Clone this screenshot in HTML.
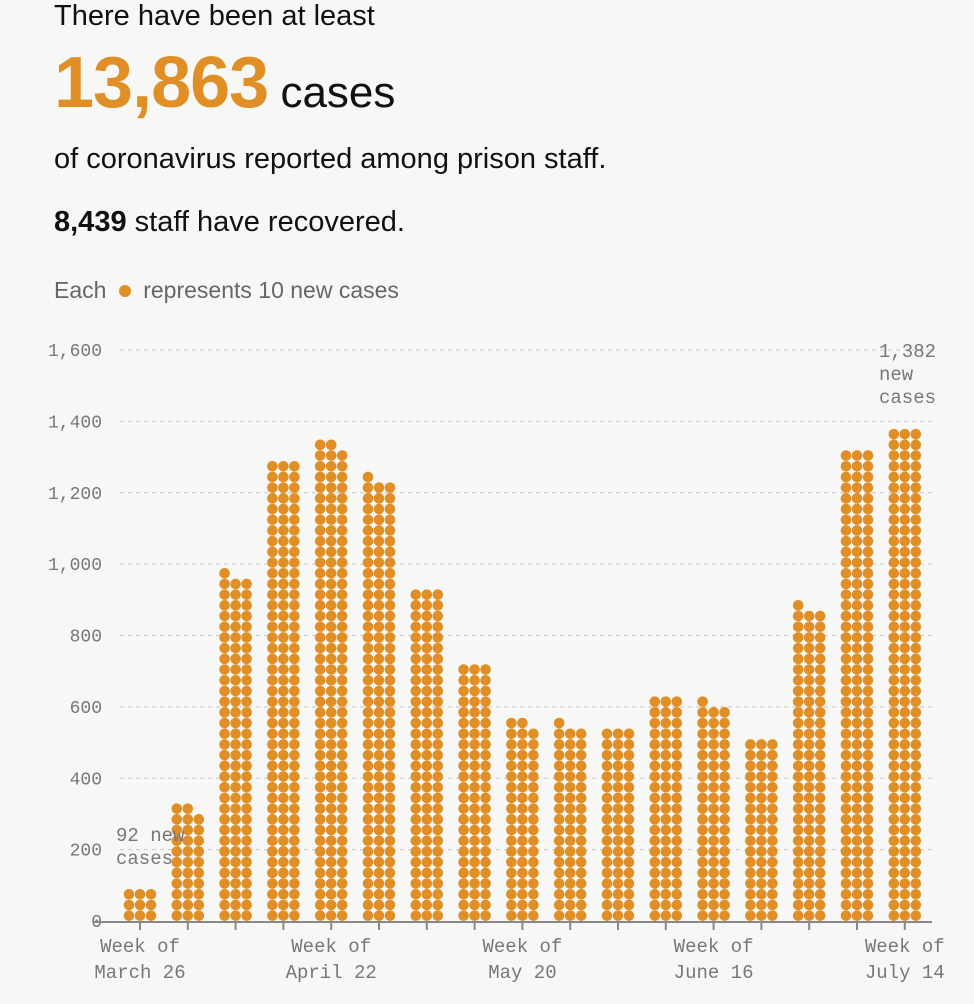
<!DOCTYPE html>
<html><head><meta charset="utf-8"><style>
body{margin:0;background:#f7f7f5;width:974px;height:1004px;overflow:hidden;font-family:"Liberation Sans",sans-serif;color:#111}
.t{position:absolute;left:54px;white-space:nowrap}
</style></head><body>
<div class="t" style="top:0px;font-size:29px">There have been at least</div>
<div class="t" style="top:42px;font-size:44px"><span style="color:#e08e26;font-weight:bold;font-size:72px;letter-spacing:-1px">13,863</span> cases</div>
<div class="t" style="top:143px;font-size:29px">of coronavirus reported among prison staff.</div>
<div class="t" style="top:206px;font-size:29px"><b>8,439</b> staff have recovered.</div>
<div class="t" style="top:277px;font-size:23px;color:#666">Each <span style="display:inline-block;width:12px;height:12px;border-radius:50%;background:#e08e26;margin:0 6px 1px"></span> represents 10 new cases</div>
<svg id="c" width="974" height="1004" style="position:absolute;left:0;top:0"></svg>
<script>
const values=[92,320,965,1290,1335,1240,930,715,555,545,535,625,605,510,875,1315,1382];
const yTicks=[0,200,400,600,800,1000,1200,1400,1600];
const xLabels=[[0,"Week of","March 26"],[4,"Week of","April 22"],[8,"Week of","May 20"],[12,"Week of","June 16"],[16,"Week of","July 14"]];
const svg=document.getElementById('c');const NS='http://www.w3.org/2000/svg';
const y=v=>921-v*(571/1600);const x=i=>140+i*47.8;
function el(t,a,p){const e=document.createElementNS(NS,t);for(const k in a)e.setAttribute(k,a[k]);(p||svg).appendChild(e);return e;}
yTicks.forEach(v=>{
 if(v>0){const g=el('line',{x1:120,x2:932,y1:y(v),y2:y(v),stroke:'#c8c8c8','stroke-dasharray':'4,4'});
 }
 const t=el('text',{x:102,y:y(v)+6,'text-anchor':'end','font-family':'Liberation Mono,monospace','font-size':18,fill:'#777'});
 t.textContent=v.toLocaleString('en-US');
});
const ax=el('line',{x1:93,x2:932,y1:922,y2:922,stroke:'#888','stroke-width':2});

values.forEach((v,i)=>{
 const tk=el('line',{x1:x(i),x2:x(i),y1:922,y2:930,stroke:'#888','stroke-width':2});
 
 const n=Math.round(v/10);const g=el('g',{});
 
 for(let k=0;k<n;k++){const c=k%3,r=Math.floor(k/3);
  el('circle',{cx:x(i)+(c-1)*11,cy:921-(r+0.5)*10.7,r:5.3,fill:'#e08e26'},g);}
});
xLabels.forEach(([i,a,b])=>{[a,b].forEach((s,j)=>{
 const t=el('text',{x:x(i),y:952+j*26,'text-anchor':'middle','font-family':'Liberation Mono,monospace','font-size':19,fill:'#777'});
 t.textContent=s;});});
function ann(lines,xx,yy,name){lines.forEach((s,j)=>{const t=el('text',{x:xx,y:yy+j*23,'font-family':'Liberation Mono,monospace','font-size':19,fill:'#777'});
 t.textContent=s;});}
ann(["92 new","cases"],116,841,'first-week-annotation');
ann(["1,382","new","cases"],879,357,'last-week-annotation');
</script>
</body></html>
